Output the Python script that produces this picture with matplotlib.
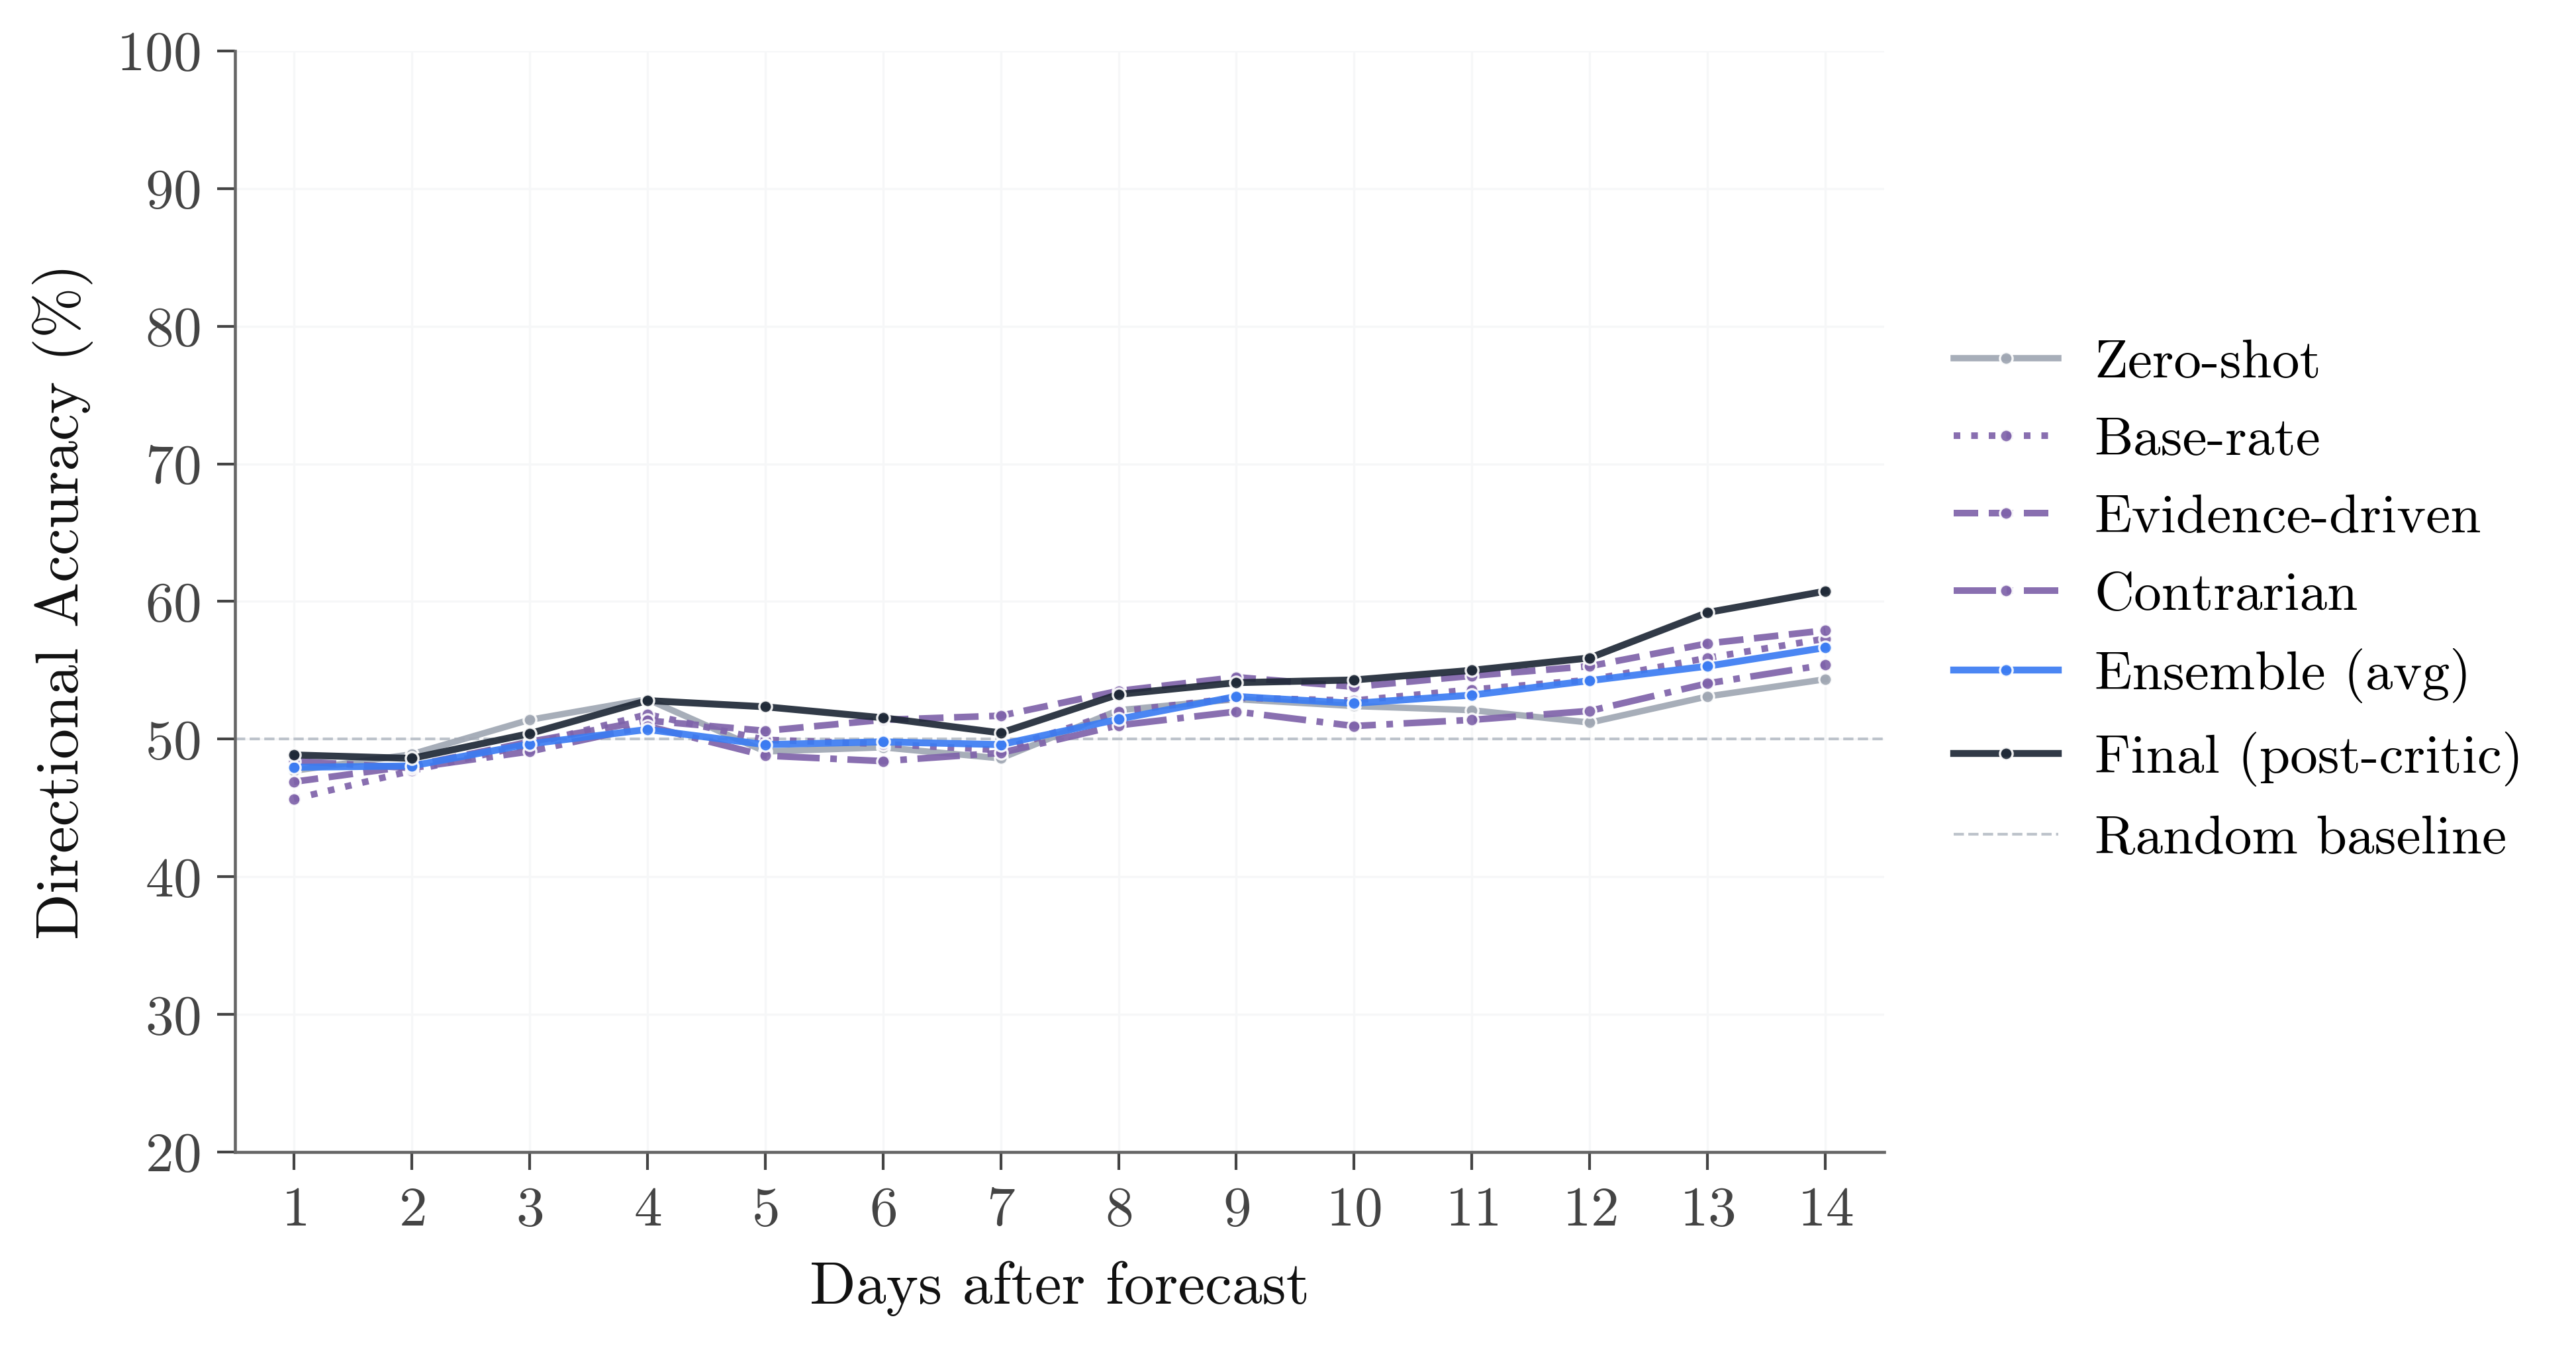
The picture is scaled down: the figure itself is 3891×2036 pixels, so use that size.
import matplotlib
matplotlib.use("Agg")
import matplotlib.pyplot as plt

# ---- data ----
days = [1, 2, 3, 4, 5, 6, 7, 8, 9, 10, 11, 12, 13, 14]
zero_shot = [47.7, 48.9, 51.4, 52.9, 49.1, 49.4, 48.6, 52.1, 52.9, 52.4, 52.1, 51.2, 53.1, 54.35]
base_rate = [45.65, 47.7, 49.6, 51.8, 49.95, 49.65, 49.2, 52.0, 53.0, 52.8, 53.6, 54.3, 55.9, 57.3]
evidence = [46.9, 48.05, 49.8, 51.35, 50.6, 51.4, 51.7, 53.5, 54.5, 53.8, 54.6, 55.3, 56.95, 57.9]
contrarian = [48.4, 47.9, 49.1, 50.95, 48.8, 48.4, 49.0, 51.0, 52.0, 50.95, 51.4, 52.05, 54.05, 55.4]
ensemble = [47.95, 48.05, 49.65, 50.7, 49.6, 49.8, 49.6, 51.45, 53.1, 52.6, 53.2, 54.25, 55.3, 56.65]
final = [48.85, 48.6, 50.4, 52.8, 52.35, 51.55, 50.45, 53.25, 54.1, 54.3, 55.0, 55.9, 59.2, 60.75]
baseline_value = 50
y_ticks = [20, 30, 40, 50, 60, 70, 80, 90, 100]

series = [
    ("Zero-shot", zero_shot, "#A0A7B3", "-", 2.3),
    ("Base-rate", base_rate, "#7F63AA", ":", 2.4),
    ("Evidence-driven", evidence, "#7F63AA", "--", 2.4),
    ("Contrarian", contrarian, "#7F63AA", "-.", 2.4),
    ("Ensemble (avg)", ensemble, "#3B7CF2", "-", 2.5),
    ("Final (post-critic)", final, "#1F2937", "-", 2.5),
]

plt.rcParams["font.family"] = ["cmr10", "DejaVu Serif"]
plt.rcParams["mathtext.fontset"] = "cm"
plt.rcParams["axes.unicode_minus"] = False
plt.rcParams["axes.formatter.use_mathtext"] = True

fig = plt.figure(figsize=(3891 / 300, 2036 / 300), dpi=300)
ax = fig.add_axes([0.0912, 0.1454, 0.7315 - 0.0912, 0.9622 - 0.1454])

for name, vals, col, ls, lw in series:
    ax.plot(days, vals, color=col, linestyle=ls, linewidth=lw, marker="o",
            markersize=4.6, markeredgecolor="white", markeredgewidth=0.8,
            alpha=0.92, label=name)

ax.axhline(baseline_value, color="#BDC3CB", linestyle="--", linewidth=1.0,
           label="Random baseline", zorder=1)

ax.set_xlim(0.5, 14.5)
ax.set_ylim(20, 100)
ax.set_xticks(days)
ax.set_yticks(y_ticks)
ax.grid(True, color="#F6F7F8", linewidth=0.8)
ax.set_axisbelow(True)

for s in ["top", "right"]:
    ax.spines[s].set_visible(False)
for s in ["left", "bottom"]:
    ax.spines[s].set_color("#666666")
    ax.spines[s].set_linewidth(1.1)

ax.tick_params(axis="both", colors="#444444", labelsize=20.5, length=6.5, width=1.0,
               labelcolor="#444444", pad=6)
ax.set_xlabel("Days after forecast", fontsize=22, color="#111111", labelpad=9)
ax.set_ylabel("Directional Accuracy (%)", fontsize=22, color="#111111", labelpad=8.5)

leg = ax.legend(loc="center left", bbox_to_anchor=(1.012, 0.5), frameon=False,
                fontsize=20, handlelength=1.9, labelspacing=0.51, handletextpad=0.65)

fig.savefig("out.png", dpi=300)
